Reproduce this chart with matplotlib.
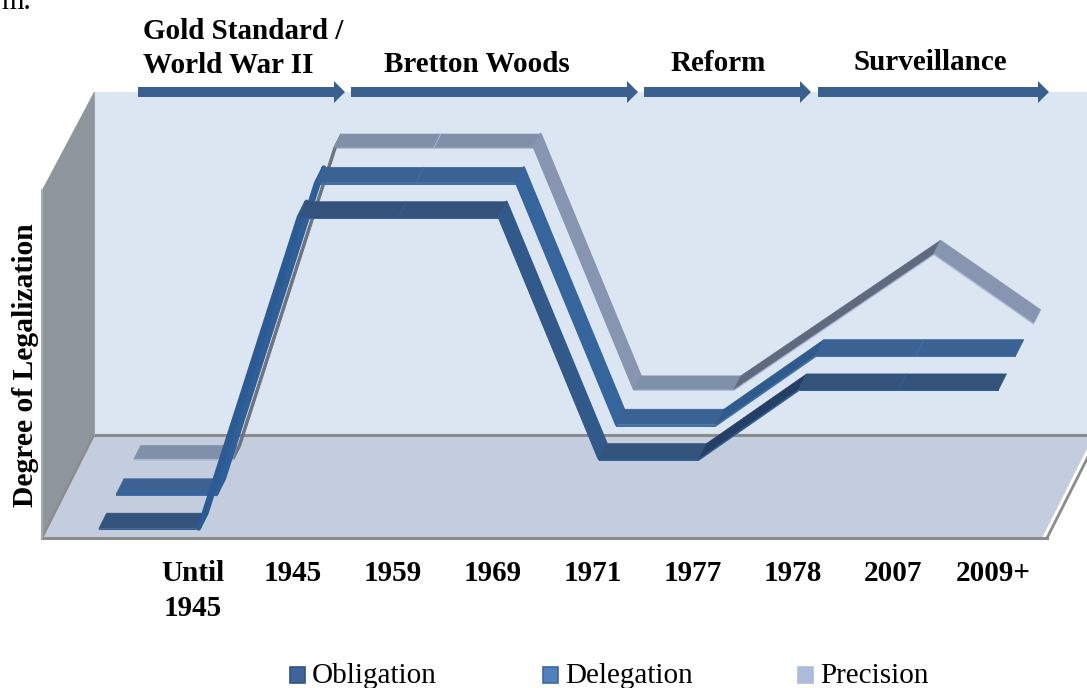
import matplotlib
matplotlib.use('Agg')
import matplotlib.pyplot as plt
from matplotlib.patches import FancyArrow, Rectangle
from matplotlib.transforms import Affine2D, blended_transform_factory

W, H = 1087, 688

# data
categories = ['', 'Until\n1945', '1945', '1959', '1969', '1971', '1977', '1978', '2007', '2009+']
obligation = [0, 0, 8.95, 8.95, 8.95, 2, 2, 4, 4, 4]
delegation = [0, 0, 8.95, 8.95, 8.95, 2, 2, 4, 4, 4]
precision = [0, 0, 8.95, 8.95, 8.95, 2, 2, 3.95, 5.9, 3.9]

era_names = ['Gold Standard /\nWorld War II', 'Bretton Woods', 'Reform', 'Surveillance']
era_arrows = [(138, 345), (351, 638), (644, 811), (818, 1049)]
era_text = [(143, 39, 'left'), (477, 72, 'center'), (718, 71, 'center'), (930, 70, 'center')]

# oblique projection of the 3d box, in data units
DX = 0.52
DY = 2.96
YMAX = 10
SHIFT = 0.02


def proj(x, y, d):
    return x + SHIFT + d * DX, y + d * DY


def ribbon(ax, vals, depth, half, st, z):
    for i in range(len(vals) - 1):
        a, b = vals[i], vals[i + 1]
        x0, y0 = proj(i, a, depth - half)
        x1, y1 = proj(i + 1, b, depth - half)
        x2, y2 = proj(i + 1, b, depth + half)
        x3, y3 = proj(i, a, depth + half)
        lw = 0.4
        if b == a:
            c = st['flat']
        elif b < a:
            c = st['fall']
            if a - b > 3:
                lw = 1.6
        elif b - a > 3:
            c = st['steep']
            lw = st['steep_lw']
        else:
            c = st['rise']
        # light lip under the front edge
        lip = 0.055
        ax.fill([x0, x1, x1, x0], [y0, y1, y1 - lip, y0 - lip], color=st['lip'], lw=0, zorder=z)
        ax.fill([x0, x1, x2, x3], [y0, y1, y2, y3], facecolor=c, edgecolor=c, lw=lw, zorder=z + 0.1,
                joinstyle='round')
        if b == a and i + 2 < len(vals) and vals[i + 2] == b:
            ax.plot([x1, x2], [y1, y2], color=st['lip'], lw=0.6, zorder=z + 0.2)


fig = plt.figure(figsize=(W / 100., H / 100.), dpi=100)
ax = fig.add_axes([0, 0, 1, 1])
ax.set_xlim(-0.92, 9.95)
ax.set_ylim(-150 / 34.8, 538 / 34.8)
ax.axis('off')

plt.rcParams['font.family'] = ['Liberation Serif', 'DejaVu Serif']

n = len(categories)
xl, xr = -0.5, n - 0.5
top_back = YMAX + DY - 0.14

# walls and floor
bx0, by0 = xl + DX, DY
bx1, by1 = xr + DX, DY
ax.fill([bx0, bx1, bx1, bx0], [by0, by1, top_back, top_back], color='#dce6f2', lw=0, zorder=1)
ax.fill([xl, bx0, bx0, xl], [0, by0, top_back, YMAX], color='#8d959d', lw=0, zorder=1)
ax.fill([xl, xr, bx1, bx0], [0, 0, by1, by0], color='#c3cddd', lw=0, zorder=1)
ax.plot([bx0, bx1], [by0, by1], color='#8a8c8c', lw=2.2, zorder=2)
ax.plot([xl, bx0], [0, by0], color='#8a8c8c', lw=1.5, zorder=2)
ax.plot([xl, xr + 0.05], [0, 0], color='#8a8c8c', lw=2.2, zorder=2)
ax.plot([xr + 0.05, bx1 + 0.05], [0, by1], color='#8a8c8c', lw=2.0, zorder=2)
ax.plot([xl, xl], [0, YMAX], color='#a6acb2', lw=1.5, zorder=2)
ax.plot([bx0, bx0], [by0, top_back], color='#a0a7ae', lw=0.8, zorder=2)

# series, back to front
ribbon(ax, precision, 5 / 6., 0.065,
       dict(flat='#8190a9', fall='#8895b0', rise='#5f6a7e', steep='#6c7382', steep_lw=0.8, lip='#afbedb'), 3)
ribbon(ax, delegation, 3 / 6., 0.075,
       dict(flat='#3a6293', fall='#36659c', rise='#2f5a8c', steep='#2f5f98', steep_lw=3.0, lip='#3f70ab'), 4)
ribbon(ax, obligation, 1 / 6., 0.075,
       dict(flat='#33537c', fall='#31598a', rise='#243f66', steep='#2c5a92', steep_lw=3.0, lip='#2f609a'), 5)

# everything outside the data is placed in pixels from the top left
px = Affine2D().scale(1, -1).translate(0, H)

for (a, b) in era_arrows:
    fig.add_artist(FancyArrow(a, 92, b - a, 0, width=10, head_width=22, head_length=11,
                              length_includes_head=True, color='#3a6090', lw=0, transform=px))

for name, (x, y, ha) in zip(era_names, era_text):
    lines = name.split('\n')
    for j, s in enumerate(lines):
        fig.text(x, y + 34 * j, s, transform=px, ha=ha, va='baseline', fontsize=21, fontweight='bold', color='black')

tick_tr = blended_transform_factory(ax.transData, px)
for i, lab in enumerate(categories):
    ax.text(i + 0.01, 560, lab, transform=tick_tr, ha='center', va='top', fontsize=21,
            fontweight='bold', color='black', linespacing=1.38)

fig.text(26, 365, 'Degree of Legalization', transform=px, rotation=90, ha='center', va='center',
         fontsize=21.3, fontweight='bold', color='black')
fig.text(1, 9, 'm.', transform=px, ha='left', va='baseline', fontsize=21, color='black')

# legend
legend_items = ['Obligation', 'Delegation', 'Precision']
legend_x = [290, 543, 798]
legend_col = [('#3f6497', '#2f5587'), ('#4f81bd', '#3a6aa5'), ('#aebcdb', '#aebcdb')]
for s, x, (fc, ec) in zip(legend_items, legend_x, legend_col):
    fig.add_artist(Rectangle((x, 667), 15, 16, facecolor=fc, edgecolor=ec, lw=1.2, transform=px))
    fig.text(x + 22, 683, s, transform=px, ha='left', va='baseline', fontsize=21, color='black')

fig.savefig('out.png', dpi=100)
